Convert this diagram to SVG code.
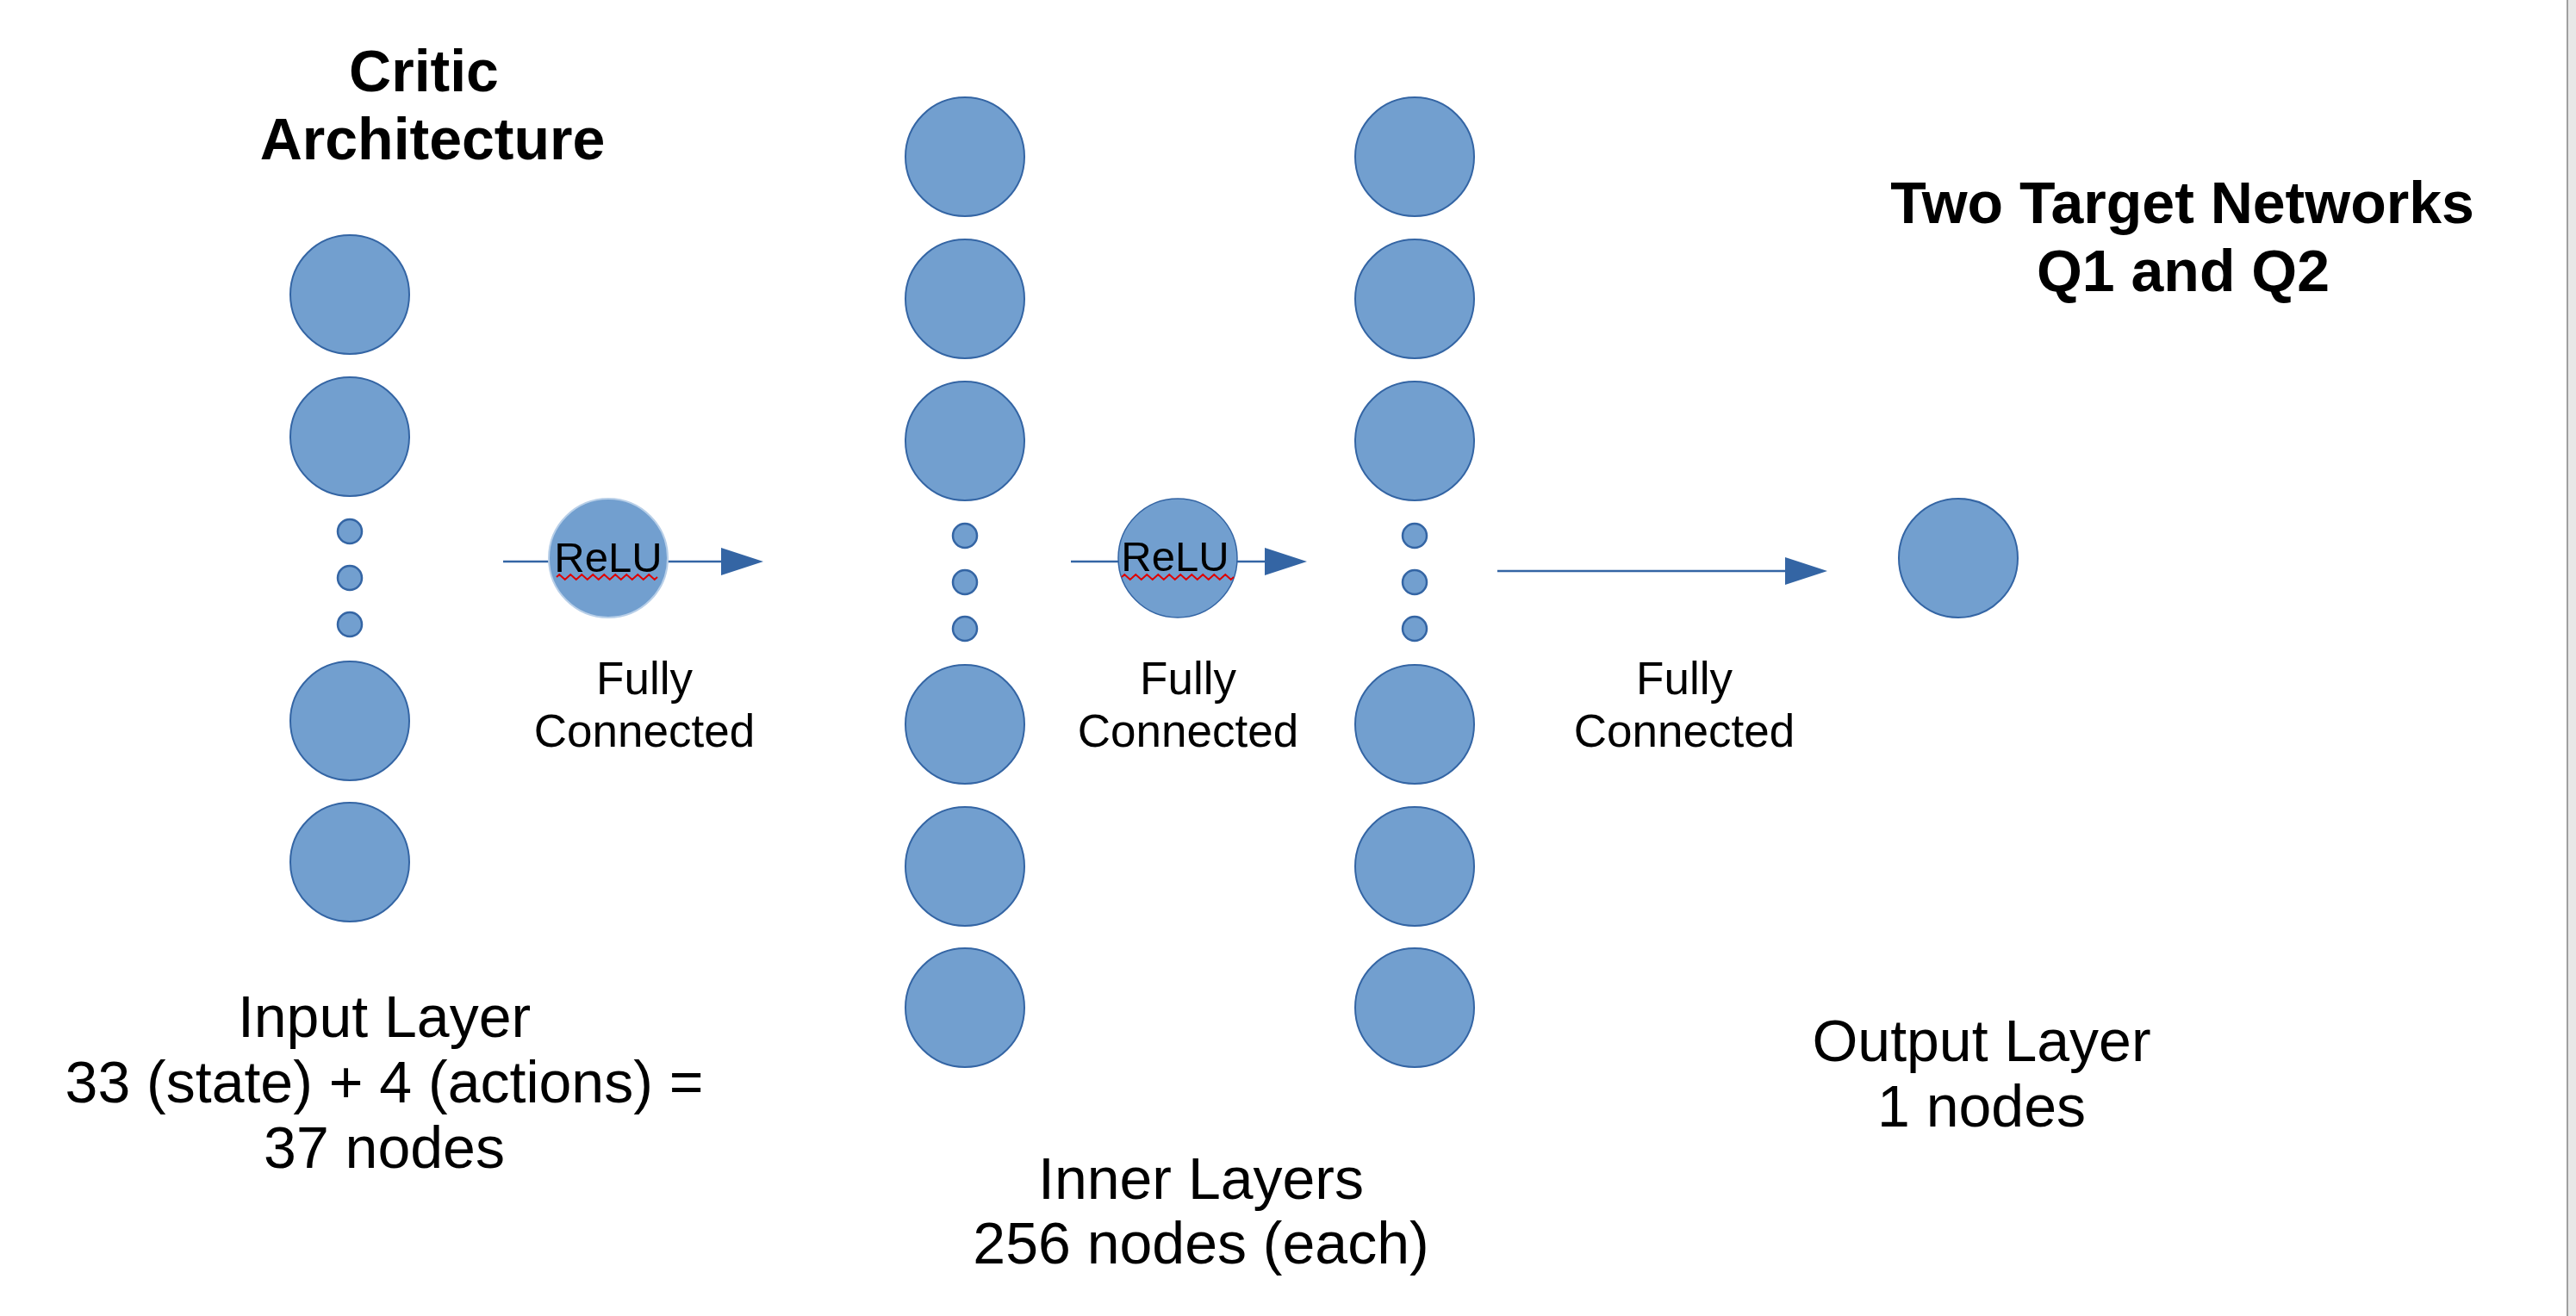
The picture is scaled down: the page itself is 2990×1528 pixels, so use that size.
<svg xmlns="http://www.w3.org/2000/svg" width="2990" height="1528" viewBox="0 0 2990 1528">
<style>
.n{fill:#729fcf;stroke:#3465a4;stroke-width:2}
.d{fill:#729fcf;stroke:#3465a4;stroke-width:2.5}
.c{stroke:#3465a4;stroke-width:2.6;fill:none}
.t{font-family:"Liberation Sans",Arial,sans-serif;fill:#000;text-anchor:middle}
.b{font-weight:bold;font-size:68px}
.l{font-size:68px}
.f{font-size:53px}
.r{font-size:49px}
.sq{fill:none;stroke:#e00000;stroke-width:2}
</style>
<defs>
<marker id="ah" markerUnits="userSpaceOnUse" markerWidth="50" markerHeight="34" refX="0" refY="16" orient="auto">
<path d="M0,0 L49,16 L0,32 Z" fill="#3465a4"/>
</marker>
</defs>
<rect width="2990" height="1528" fill="#fff"/>
<rect x="2979" y="0" width="2" height="1528" fill="#a0a0a0"/>
<rect x="2981" y="0" width="9" height="1528" fill="#e8e8e8"/>

<g id="title">
<text class="t b" x="492" y="106">Critic</text>
<text class="t b" x="502" y="185">Architecture</text>
</g>
<g id="title-targets">
<text class="t b" x="2533" y="259">Two Target Networks</text>
<text class="t b" x="2534" y="338">Q1 and Q2</text>
</g>

<g id="connectors">
<line class="c" x1="584" y1="652" x2="837" y2="652" marker-end="url(#ah)"/>
<line class="c" x1="1243" y1="652" x2="1468" y2="652" marker-end="url(#ah)"/>
<line class="c" x1="1738" y1="663" x2="2072" y2="663" marker-end="url(#ah)"/>
</g>

<g id="input-layer">
<circle class="n" cx="406" cy="342" r="69"/>
<circle class="n" cx="406" cy="507" r="69"/>
<circle class="d" cx="406" cy="617" r="14"/>
<circle class="d" cx="406" cy="671" r="14"/>
<circle class="d" cx="406" cy="725" r="14"/>
<circle class="n" cx="406" cy="837" r="69"/>
<circle class="n" cx="406" cy="1001" r="69"/>
</g>

<g id="inner-layer-1">
<circle class="n" cx="1120" cy="182" r="69"/>
<circle class="n" cx="1120" cy="347" r="69"/>
<circle class="n" cx="1120" cy="512" r="69"/>
<circle class="d" cx="1120" cy="622" r="14"/>
<circle class="d" cx="1120" cy="676" r="14"/>
<circle class="d" cx="1120" cy="730" r="14"/>
<circle class="n" cx="1120" cy="841" r="69"/>
<circle class="n" cx="1120" cy="1006" r="69"/>
<circle class="n" cx="1120" cy="1170" r="69"/>
</g>

<g id="inner-layer-2">
<circle class="n" cx="1642" cy="182" r="69"/>
<circle class="n" cx="1642" cy="347" r="69"/>
<circle class="n" cx="1642" cy="512" r="69"/>
<circle class="d" cx="1642" cy="622" r="14"/>
<circle class="d" cx="1642" cy="676" r="14"/>
<circle class="d" cx="1642" cy="730" r="14"/>
<circle class="n" cx="1642" cy="841" r="69"/>
<circle class="n" cx="1642" cy="1006" r="69"/>
<circle class="n" cx="1642" cy="1170" r="69"/>
</g>

<g id="output-layer">
<circle class="n" cx="2273" cy="648" r="69"/>
</g>

<g id="relu-1">
<circle cx="706" cy="648" r="69" fill="#729fcf" stroke="#b8cfe8" stroke-width="2"/>
<text class="t r" x="706" y="664">ReLU</text>
<path class="sq" d="M646,670 l3.25,-3 l3.25,3 l3.25,3 l3.25,-3 l3.25,-3 l3.25,3 l3.25,3 l3.25,-3 l3.25,-3 l3.25,3 l3.25,3 l3.25,-3 l3.25,-3 l3.25,3 l3.25,3 l3.25,-3 l3.25,-3 l3.25,3 l3.25,3 l3.25,-3 l3.25,-3 l3.25,3 l3.25,3 l3.25,-3 l3.25,-3 l3.25,3 l3.25,3 l3.25,-3 l3.25,-3 l3.25,3 l3.25,3 l3.25,-3 l3.25,-3 l3.25,3 l3.25,3 l3.25,-3"/>
</g>
<g id="relu-2">
<circle cx="1367" cy="648" r="69" fill="#729fcf" stroke="#3465a4" stroke-width="1.5"/>
<text class="t r" x="1364" y="663">ReLU</text>
<path class="sq" d="M1302,670 l3.25,-3 l3.25,3 l3.25,3 l3.25,-3 l3.25,-3 l3.25,3 l3.25,3 l3.25,-3 l3.25,-3 l3.25,3 l3.25,3 l3.25,-3 l3.25,-3 l3.25,3 l3.25,3 l3.25,-3 l3.25,-3 l3.25,3 l3.25,3 l3.25,-3 l3.25,-3 l3.25,3 l3.25,3 l3.25,-3 l3.25,-3 l3.25,3 l3.25,3 l3.25,-3 l3.25,-3 l3.25,3 l3.25,3 l3.25,-3 l3.25,-3 l3.25,3 l3.25,3 l3.25,-3 l3.25,-3 l3.25,3 l3.25,3 l3.25,-3"/>
</g>

<g id="labels">
<text class="t f" x="748" y="806">Fully</text>
<text class="t f" x="748" y="867">Connected</text>
<text class="t f" x="1379" y="806">Fully</text>
<text class="t f" x="1379" y="867">Connected</text>
<text class="t f" x="1955" y="806">Fully</text>
<text class="t f" x="1955" y="867">Connected</text>
<text class="t l" x="446" y="1204">Input Layer</text>
<text class="t l" x="446" y="1280">33 (state) + 4 (actions) =</text>
<text class="t l" x="446" y="1356">37 nodes</text>
<text class="t l" x="1394" y="1392">Inner Layers</text>
<text class="t l" x="1394" y="1467">256 nodes (each)</text>
<text class="t l" x="2300" y="1232">Output Layer</text>
<text class="t l" x="2300" y="1308">1 nodes</text>
</g>
</svg>
